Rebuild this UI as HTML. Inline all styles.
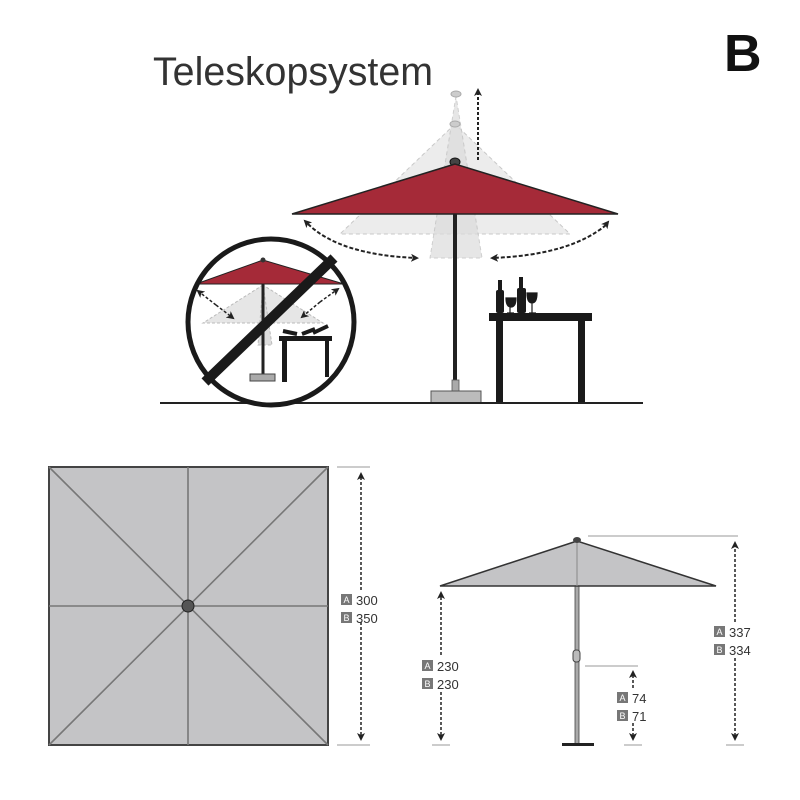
<!DOCTYPE html>
<html><head><meta charset="utf-8"><style>body{margin:0;background:#fff}svg{display:block}</style></head>
<body>
<svg width="800" height="800" viewBox="0 0 800 800" xmlns="http://www.w3.org/2000/svg" font-family="Liberation Sans, sans-serif">
<defs>
<marker id="ah" markerWidth="8" markerHeight="8" refX="6" refY="4" orient="auto" markerUnits="userSpaceOnUse"><path d="M0,0 L8,4 L0,8 L2,4z" fill="#222"/></marker>
<clipPath id="cc"><circle cx="271" cy="322" r="82"/></clipPath>
</defs>
<text x="153" y="85" font-size="40" fill="#333" textLength="280" lengthAdjust="spacingAndGlyphs">Teleskopsystem</text>
<text x="724" y="71" font-size="52" font-weight="bold" fill="#111">B</text>

<!-- ghost canopies -->
<polygon points="455,124 340,234 570,234" fill="#e8e8e8" stroke="#bbb" stroke-dasharray="4,3" opacity="0.8"/>
<polygon points="456,96 430,258 482,258" fill="#dcdcdc" stroke="#bbb" stroke-dasharray="4,3" opacity="0.7"/>
<ellipse cx="456" cy="94" rx="5" ry="3" fill="#ccc" stroke="#aaa"/>
<ellipse cx="455" cy="124" rx="5" ry="3" fill="#ccc" stroke="#aaa"/>
<line x1="478" y1="160" x2="478" y2="90" stroke="#222" stroke-width="2" stroke-dasharray="3,2" marker-end="url(#ah)"/>
<!-- main umbrella -->
<rect x="453" y="214" width="4" height="168" fill="#222"/>
<ellipse cx="455" cy="162" rx="5" ry="4" fill="#444" stroke="#111"/>
<polygon points="455,164 292,214 618,214" fill="#a52a38" stroke="#222" stroke-width="1.5"/>
<path d="M308,224 Q340,255 417,258" fill="none" stroke="#222" stroke-width="2" stroke-dasharray="4,2" marker-end="url(#ah)"/>
<path d="M308,224 L305,221" stroke="#222" marker-end="url(#ah)"/>
<path d="M606,225 Q570,255 492,258" fill="none" stroke="#222" stroke-width="2" stroke-dasharray="4,2" marker-end="url(#ah)"/>
<path d="M604,227 L608,222" stroke="#222" marker-end="url(#ah)"/>
<rect x="452" y="380" width="7" height="11" fill="#aaa" stroke="#555" stroke-width="0.8"/>
<rect x="431" y="391" width="50" height="12" fill="#bbb" stroke="#555"/>
<!-- table -->
<rect x="489" y="313" width="103" height="8" fill="#1a1a1a"/>
<rect x="496" y="320" width="7" height="83" fill="#1a1a1a"/>
<rect x="578" y="320" width="7" height="83" fill="#1a1a1a"/>
<rect x="496" y="290" width="8" height="23" rx="2" fill="#1a1a1a"/><rect x="498" y="280" width="4" height="12" fill="#1a1a1a"/>
<rect x="517" y="288" width="9" height="25" rx="2" fill="#1a1a1a"/><rect x="519" y="277" width="4" height="13" fill="#1a1a1a"/>
<path d="M506,298 h10 q0,9 -5,9 q-5,0 -5,-9z M510,307 v6 M507,313 h7" fill="#1a1a1a" stroke="#1a1a1a" stroke-width="1.2"/>
<path d="M527,293 h10 q0,10 -5,10 q-5,0 -5,-10z M532,303 v10 M529,313 h7" fill="#1a1a1a" stroke="#1a1a1a" stroke-width="1.2"/>
<line x1="160" y1="403" x2="643" y2="403" stroke="#222" stroke-width="2"/>

<!-- circle inset -->
<circle cx="271" cy="322" r="83" fill="#fff"/>
<g clip-path="url(#cc)">
<polygon points="263,285 203,323 323,323" fill="#e6e6e6" stroke="#bbb" stroke-dasharray="3,2"/>
<polygon points="263,285 258,345 272,345" fill="#ddd" stroke="#bbb" stroke-dasharray="3,2"/>
<rect x="261.5" y="284" width="3" height="92" fill="#222"/>
<polygon points="263,260 196,284 344,284" fill="#a52a38" stroke="#222"/>
<circle cx="263" cy="260" r="2.5" fill="#333"/>
<line x1="216" y1="305" x2="233" y2="318" stroke="#222" stroke-width="1.5" stroke-dasharray="3,2" marker-end="url(#ah)"/>
<line x1="216" y1="305" x2="198" y2="291" stroke="#222" stroke-width="1.5" stroke-dasharray="3,2" marker-end="url(#ah)"/>
<line x1="320" y1="302" x2="338" y2="289" stroke="#222" stroke-width="1.5" stroke-dasharray="3,2" marker-end="url(#ah)"/>
<line x1="320" y1="302" x2="302" y2="317" stroke="#222" stroke-width="1.5" stroke-dasharray="3,2" marker-end="url(#ah)"/>
<rect x="250" y="374" width="25" height="7" fill="#aaa" stroke="#444"/>
<rect x="279" y="336" width="53" height="5" fill="#1a1a1a"/>
<rect x="282" y="340" width="5" height="42" fill="#1a1a1a"/>
<rect x="325" y="340" width="4" height="37" fill="#1a1a1a"/>
<path d="M283,331 l14,3 M302,334 l13,-5 M313,333 l15,-7" stroke="#1a1a1a" stroke-width="4"/>
</g>
<circle cx="271" cy="322" r="83" fill="none" stroke="#1a1a1a" stroke-width="5"/>
<line x1="205" y1="382" x2="334" y2="258" stroke="#1a1a1a" stroke-width="10"/>

<!-- plan view -->
<rect x="49" y="467" width="279" height="278" fill="#c4c4c6" stroke="#444" stroke-width="2"/>
<g stroke="#777" stroke-width="1.6">
<line x1="49" y1="467" x2="328" y2="745"/><line x1="328" y1="467" x2="49" y2="745"/>
<line x1="188" y1="467" x2="188" y2="745"/><line x1="49" y1="606" x2="328" y2="606"/>
</g>
<circle cx="188" cy="606" r="6" fill="#555" stroke="#222"/>
<g stroke="#999" stroke-width="1"><line x1="337" y1="467" x2="370" y2="467"/><line x1="337" y1="745" x2="370" y2="745"/></g>
<line x1="361" y1="590" x2="361" y2="474" stroke="#222" stroke-width="1.5" stroke-dasharray="3,2" marker-end="url(#ah)"/>
<line x1="361" y1="622" x2="361" y2="739" stroke="#222" stroke-width="1.5" stroke-dasharray="3,2" marker-end="url(#ah)"/>

<!-- side view -->
<line x1="588" y1="536" x2="738" y2="536" stroke="#999"/>
<line x1="585" y1="666" x2="638" y2="666" stroke="#999"/>
<g stroke="#999"><line x1="432" y1="745" x2="450" y2="745"/><line x1="624" y1="745" x2="642" y2="745"/><line x1="726" y1="745" x2="744" y2="745"/></g>
<rect x="575" y="586" width="4" height="159" fill="#aaa" stroke="#444" stroke-width="0.8"/>
<rect x="573" y="650" width="7" height="12" rx="3" fill="#bbb" stroke="#444"/>
<rect x="562" y="743" width="32" height="3" fill="#222"/>
<polygon points="577,541 440,586 716,586" fill="#c4c4c6" stroke="#333" stroke-width="1.5"/>
<line x1="577" y1="541" x2="577" y2="586" stroke="#888"/>
<ellipse cx="577" cy="540" rx="4" ry="3" fill="#444"/>
<line x1="441" y1="655" x2="441" y2="593" stroke="#222" stroke-width="1.5" stroke-dasharray="3,2" marker-end="url(#ah)"/>
<line x1="441" y1="692" x2="441" y2="739" stroke="#222" stroke-width="1.5" stroke-dasharray="3,2" marker-end="url(#ah)"/>
<line x1="735" y1="622" x2="735" y2="543" stroke="#222" stroke-width="1.5" stroke-dasharray="3,2" marker-end="url(#ah)"/>
<line x1="735" y1="658" x2="735" y2="739" stroke="#222" stroke-width="1.5" stroke-dasharray="3,2" marker-end="url(#ah)"/>
<line x1="633" y1="688" x2="633" y2="672" stroke="#222" stroke-width="1.5" stroke-dasharray="3,2" marker-end="url(#ah)"/>
<line x1="633" y1="723" x2="633" y2="739" stroke="#222" stroke-width="1.5" stroke-dasharray="3,2" marker-end="url(#ah)"/>

<g font-size="13" fill="#333">
<rect x="341" y="594" width="11" height="11" fill="#777"/><text x="343.5" y="603" font-size="9" fill="#fff">A</text><text x="356" y="605">300</text>
<rect x="341" y="612" width="11" height="11" fill="#777"/><text x="343.5" y="621" font-size="9" fill="#fff">B</text><text x="356" y="623">350</text>
<rect x="422" y="660" width="11" height="11" fill="#777"/><text x="424.5" y="669" font-size="9" fill="#fff">A</text><text x="437" y="671">230</text>
<rect x="422" y="678" width="11" height="11" fill="#777"/><text x="424.5" y="687" font-size="9" fill="#fff">B</text><text x="437" y="689">230</text>
<rect x="714" y="626" width="11" height="11" fill="#777"/><text x="716.5" y="635" font-size="9" fill="#fff">A</text><text x="729" y="637">337</text>
<rect x="714" y="644" width="11" height="11" fill="#777"/><text x="716.5" y="653" font-size="9" fill="#fff">B</text><text x="729" y="655">334</text>
<rect x="617" y="692" width="11" height="11" fill="#777"/><text x="619.5" y="701" font-size="9" fill="#fff">A</text><text x="632" y="703">74</text>
<rect x="617" y="710" width="11" height="11" fill="#777"/><text x="619.5" y="719" font-size="9" fill="#fff">B</text><text x="632" y="721">71</text>
</g>
</svg>
</body></html>
